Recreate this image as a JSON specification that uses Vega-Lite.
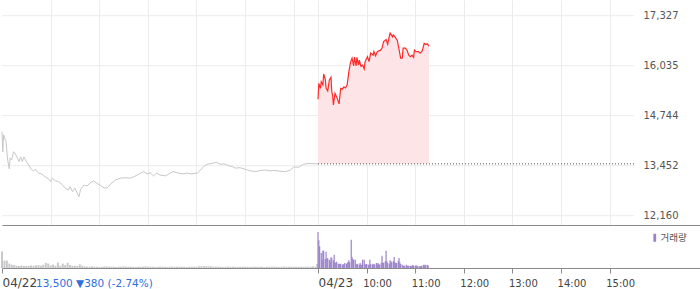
{
  "$schema": "https://vega.github.io/schema/vega-lite/v6.json",
  "padding": 0,
  "spacing": 0,
  "bounds": "flush",
  "background": "white",
  "config": {"view": {"stroke": null}, "font": "DejaVu Sans"},
  "datasets": {
    "price": [
      {"d":"04/22","m":0,"p":14330},{"d":"04/22","m":1,"p":13810},{"d":"04/22","m":2,"p":14250},{"d":"04/22","m":5,"p":14070},{"d":"04/22","m":7,"p":13600},{"d":"04/22","m":9,"p":13370},{"d":"04/22","m":10,"p":13650},{"d":"04/22","m":12,"p":13600},{"d":"04/22","m":14,"p":13810},{"d":"04/22","m":16,"p":13780},{"d":"04/22","m":19,"p":13650},{"d":"04/22","m":21,"p":13560},{"d":"04/22","m":23,"p":13680},{"d":"04/22","m":25,"p":13560},{"d":"04/22","m":27,"p":13680},{"d":"04/22","m":30,"p":13560},{"d":"04/22","m":33,"p":13470},{"d":"04/22","m":36,"p":13360},{"d":"04/22","m":39,"p":13320},{"d":"04/22","m":41,"p":13360},{"d":"04/22","m":45,"p":13260},{"d":"04/22","m":49,"p":13240},{"d":"04/22","m":53,"p":13170},{"d":"04/22","m":58,"p":13100},{"d":"04/22","m":60,"p":13040},{"d":"04/22","m":62,"p":13130},{"d":"04/22","m":66,"p":13060},{"d":"04/22","m":70,"p":13040},{"d":"04/22","m":74,"p":12970},{"d":"04/22","m":78,"p":12870},{"d":"04/22","m":82,"p":12820},{"d":"04/22","m":84,"p":12910},{"d":"04/22","m":87,"p":12780},{"d":"04/22","m":90,"p":12870},{"d":"04/22","m":95,"p":12650},{"d":"04/22","m":97,"p":12840},{"d":"04/22","m":101,"p":12950},{"d":"04/22","m":105,"p":12930},{"d":"04/22","m":109,"p":13010},{"d":"04/22","m":113,"p":13060},{"d":"04/22","m":117,"p":13000},{"d":"04/22","m":121,"p":12950},{"d":"04/22","m":126,"p":12880},{"d":"04/22","m":130,"p":12880},{"d":"04/22","m":134,"p":12980},{"d":"04/22","m":140,"p":13080},{"d":"04/22","m":146,"p":13130},{"d":"04/22","m":152,"p":13140},{"d":"04/22","m":158,"p":13130},{"d":"04/22","m":163,"p":13170},{"d":"04/22","m":167,"p":13210},{"d":"04/22","m":171,"p":13260},{"d":"04/22","m":175,"p":13300},{"d":"04/22","m":179,"p":13240},{"d":"04/22","m":183,"p":13270},{"d":"04/22","m":187,"p":13190},{"d":"04/22","m":191,"p":13260},{"d":"04/22","m":195,"p":13210},{"d":"04/22","m":202,"p":13190},{"d":"04/22","m":206,"p":13240},{"d":"04/22","m":211,"p":13300},{"d":"04/22","m":216,"p":13270},{"d":"04/22","m":222,"p":13240},{"d":"04/22","m":228,"p":13260},{"d":"04/22","m":234,"p":13240},{"d":"04/22","m":241,"p":13260},{"d":"04/22","m":245,"p":13340},{"d":"04/22","m":249,"p":13430},{"d":"04/22","m":253,"p":13490},{"d":"04/22","m":259,"p":13510},{"d":"04/22","m":265,"p":13540},{"d":"04/22","m":269,"p":13490},{"d":"04/22","m":274,"p":13500},{"d":"04/22","m":280,"p":13450},{"d":"04/22","m":284,"p":13430},{"d":"04/22","m":288,"p":13390},{"d":"04/22","m":294,"p":13400},{"d":"04/22","m":300,"p":13360},{"d":"04/22","m":306,"p":13320},{"d":"04/22","m":313,"p":13300},{"d":"04/22","m":319,"p":13330},{"d":"04/22","m":325,"p":13340},{"d":"04/22","m":331,"p":13320},{"d":"04/22","m":337,"p":13330},{"d":"04/22","m":343,"p":13310},{"d":"04/22","m":350,"p":13300},{"d":"04/22","m":356,"p":13340},{"d":"04/22","m":360,"p":13420},{"d":"04/22","m":366,"p":13410},{"d":"04/22","m":372,"p":13490},{"d":"04/22","m":378,"p":13510},{"d":"04/22","m":390,"p":13500},
      {"d":"04/23","m":390,"p":15170},{"d":"04/23","m":391,"p":15580},{"d":"04/23","m":393,"p":15450},{"d":"04/23","m":394,"p":15620},{"d":"04/23","m":396,"p":15540},{"d":"04/23","m":397,"p":15820},{"d":"04/23","m":399,"p":15680},{"d":"04/23","m":400,"p":15450},{"d":"04/23","m":402,"p":15380},{"d":"04/23","m":404,"p":15670},{"d":"04/23","m":406,"p":15740},{"d":"04/23","m":407,"p":15360},{"d":"04/23","m":408,"p":15280},{"d":"04/23","m":409,"p":15020},{"d":"04/23","m":411,"p":15320},{"d":"04/23","m":413,"p":15230},{"d":"04/23","m":416,"p":15050},{"d":"04/23","m":418,"p":15450},{"d":"04/23","m":420,"p":15430},{"d":"04/23","m":422,"p":15490},{"d":"04/23","m":424,"p":15460},{"d":"04/23","m":426,"p":15540},{"d":"04/23","m":428,"p":15870},{"d":"04/23","m":430,"p":16110},{"d":"04/23","m":432,"p":16230},{"d":"04/23","m":434,"p":16030},{"d":"04/23","m":435,"p":16260},{"d":"04/23","m":437,"p":16030},{"d":"04/23","m":438,"p":16250},{"d":"04/23","m":440,"p":16050},{"d":"04/23","m":441,"p":16180},{"d":"04/23","m":443,"p":16020},{"d":"04/23","m":445,"p":16050},{"d":"04/23","m":447,"p":15950},{"d":"04/23","m":448,"p":16130},{"d":"04/23","m":451,"p":16270},{"d":"04/23","m":453,"p":16140},{"d":"04/23","m":455,"p":16360},{"d":"04/23","m":458,"p":16310},{"d":"04/23","m":459,"p":16400},{"d":"04/23","m":461,"p":16290},{"d":"04/23","m":463,"p":16390},{"d":"04/23","m":465,"p":16420},{"d":"04/23","m":467,"p":16430},{"d":"04/23","m":469,"p":16490},{"d":"04/23","m":471,"p":16660},{"d":"04/23","m":474,"p":16710},{"d":"04/23","m":476,"p":16590},{"d":"04/23","m":478,"p":16790},{"d":"04/23","m":479,"p":16880},{"d":"04/23","m":482,"p":16780},{"d":"04/23","m":483,"p":16830},{"d":"04/23","m":485,"p":16780},{"d":"04/23","m":488,"p":16680},{"d":"04/23","m":489,"p":16570},{"d":"04/23","m":492,"p":16230},{"d":"04/23","m":494,"p":16230},{"d":"04/23","m":495,"p":16490},{"d":"04/23","m":498,"p":16490},{"d":"04/23","m":500,"p":16430},{"d":"04/23","m":502,"p":16310},{"d":"04/23","m":504,"p":16270},{"d":"04/23","m":506,"p":16310},{"d":"04/23","m":508,"p":16250},{"d":"04/23","m":509,"p":16440},{"d":"04/23","m":511,"p":16400},{"d":"04/23","m":514,"p":16400},{"d":"04/23","m":516,"p":16360},{"d":"04/23","m":518,"p":16400},{"d":"04/23","m":519,"p":16440},{"d":"04/23","m":521,"p":16610},{"d":"04/23","m":522,"p":16600},{"d":"04/23","m":523,"p":16580},{"d":"04/23","m":525,"p":16600},{"d":"04/23","m":527,"p":16540}
    ],
    "vol": [
      {"d":"04/22","m":0,"v":82000},{"d":"04/22","m":3,"v":37000},{"d":"04/22","m":6,"v":37000},{"d":"04/22","m":9,"v":22000},{"d":"04/22","m":12,"v":17000},{"d":"04/22","m":15,"v":15000},{"d":"04/22","m":18,"v":11000},{"d":"04/22","m":21,"v":10000},{"d":"04/22","m":24,"v":13000},{"d":"04/22","m":27,"v":10000},{"d":"04/22","m":30,"v":11000},{"d":"04/22","m":33,"v":10000},{"d":"04/22","m":36,"v":13000},{"d":"04/22","m":39,"v":11000},{"d":"04/22","m":42,"v":13000},{"d":"04/22","m":45,"v":15000},{"d":"04/22","m":48,"v":11000},{"d":"04/22","m":51,"v":16000},{"d":"04/22","m":54,"v":26000},{"d":"04/22","m":57,"v":22000},{"d":"04/22","m":60,"v":13000},{"d":"04/22","m":63,"v":17000},{"d":"04/22","m":66,"v":11000},{"d":"04/22","m":69,"v":27000},{"d":"04/22","m":72,"v":11000},{"d":"04/22","m":75,"v":22000},{"d":"04/22","m":78,"v":15000},{"d":"04/22","m":81,"v":26000},{"d":"04/22","m":84,"v":15000},{"d":"04/22","m":87,"v":11000},{"d":"04/22","m":90,"v":11000},{"d":"04/22","m":93,"v":10000},{"d":"04/22","m":96,"v":18000},{"d":"04/22","m":99,"v":11000},{"d":"04/22","m":102,"v":8000},
      {"d":"04/22","m":105,"v":6500},{"d":"04/22","m":108,"v":6500},{"d":"04/22","m":111,"v":8500},{"d":"04/22","m":114,"v":6500},{"d":"04/22","m":117,"v":6500},{"d":"04/22","m":120,"v":5000},{"d":"04/22","m":123,"v":6500},{"d":"04/22","m":126,"v":6500},{"d":"04/22","m":129,"v":8500},{"d":"04/22","m":132,"v":6500},{"d":"04/22","m":135,"v":6500},{"d":"04/22","m":138,"v":6500},{"d":"04/22","m":141,"v":5000},{"d":"04/22","m":144,"v":6500},{"d":"04/22","m":147,"v":6500},{"d":"04/22","m":150,"v":8500},{"d":"04/22","m":153,"v":6500},{"d":"04/22","m":156,"v":6500},{"d":"04/22","m":159,"v":6500},{"d":"04/22","m":162,"v":6500},{"d":"04/22","m":165,"v":5000},{"d":"04/22","m":168,"v":6500},{"d":"04/22","m":171,"v":6500},{"d":"04/22","m":174,"v":6500},{"d":"04/22","m":177,"v":8500},{"d":"04/22","m":180,"v":6500},{"d":"04/22","m":183,"v":6500},{"d":"04/22","m":186,"v":6500},{"d":"04/22","m":189,"v":5000},{"d":"04/22","m":192,"v":6500},{"d":"04/22","m":195,"v":6500},{"d":"04/22","m":198,"v":6500},{"d":"04/22","m":201,"v":6500},{"d":"04/22","m":204,"v":5000},{"d":"04/22","m":207,"v":6500},{"d":"04/22","m":210,"v":6500},{"d":"04/22","m":213,"v":6500},{"d":"04/22","m":216,"v":6500},{"d":"04/22","m":219,"v":6500},{"d":"04/22","m":222,"v":6500},{"d":"04/22","m":225,"v":6500},{"d":"04/22","m":228,"v":5000},{"d":"04/22","m":231,"v":6500},{"d":"04/22","m":234,"v":6500},{"d":"04/22","m":237,"v":6500},{"d":"04/22","m":240,"v":6500},{"d":"04/22","m":243,"v":8500},{"d":"04/22","m":246,"v":8500},{"d":"04/22","m":249,"v":10000},{"d":"04/22","m":252,"v":8500},{"d":"04/22","m":255,"v":8500},{"d":"04/22","m":258,"v":8500},{"d":"04/22","m":261,"v":6500},{"d":"04/22","m":264,"v":6500},{"d":"04/22","m":267,"v":6500},{"d":"04/22","m":270,"v":6500},{"d":"04/22","m":273,"v":5000},{"d":"04/22","m":276,"v":6500},{"d":"04/22","m":279,"v":6500},{"d":"04/22","m":282,"v":6500},{"d":"04/22","m":285,"v":6500},{"d":"04/22","m":288,"v":6500},{"d":"04/22","m":291,"v":5000},{"d":"04/22","m":294,"v":6500},{"d":"04/22","m":297,"v":6500},{"d":"04/22","m":300,"v":6500},{"d":"04/22","m":303,"v":6500},{"d":"04/22","m":306,"v":5000},{"d":"04/22","m":309,"v":6500},{"d":"04/22","m":312,"v":6500},{"d":"04/22","m":315,"v":6500},{"d":"04/22","m":318,"v":6500},{"d":"04/22","m":321,"v":6500},{"d":"04/22","m":324,"v":5000},{"d":"04/22","m":327,"v":6500},{"d":"04/22","m":330,"v":6500},{"d":"04/22","m":333,"v":6500},{"d":"04/22","m":336,"v":6500},{"d":"04/22","m":339,"v":6500},{"d":"04/22","m":342,"v":5000},{"d":"04/22","m":345,"v":6500},{"d":"04/22","m":348,"v":6500},{"d":"04/22","m":351,"v":6500},{"d":"04/22","m":354,"v":6500},{"d":"04/22","m":357,"v":6500},{"d":"04/22","m":360,"v":6500},{"d":"04/22","m":363,"v":6500},{"d":"04/22","m":366,"v":6500},{"d":"04/22","m":369,"v":6500},{"d":"04/22","m":372,"v":6500},{"d":"04/22","m":375,"v":6500},{"d":"04/22","m":378,"v":6500},{"d":"04/22","m":381,"v":6500},{"d":"04/22","m":384,"v":8500},{"d":"04/22","m":387,"v":6500},{"d":"04/22","m":389,"v":20000},
      {"d":"04/23","m":390,"v":180000},{"d":"04/23","m":391,"v":138500},{"d":"04/23","m":392,"v":108500},{"d":"04/23","m":394,"v":75000},{"d":"04/23","m":395,"v":41500},{"d":"04/23","m":396,"v":86500},{"d":"04/23","m":397,"v":86500},{"d":"04/23","m":399,"v":45000},{"d":"04/23","m":400,"v":81500},{"d":"04/23","m":401,"v":45000},{"d":"04/23","m":402,"v":50000},{"d":"04/23","m":404,"v":41500},{"d":"04/23","m":405,"v":33500},{"d":"04/23","m":406,"v":53500},{"d":"04/23","m":407,"v":50000},{"d":"04/23","m":409,"v":38500},{"d":"04/23","m":410,"v":66500},{"d":"04/23","m":411,"v":25000},{"d":"04/23","m":412,"v":28500},{"d":"04/23","m":413,"v":31500},{"d":"04/23","m":415,"v":21500},{"d":"04/23","m":416,"v":21500},{"d":"04/23","m":417,"v":20000},{"d":"04/23","m":418,"v":21500},{"d":"04/23","m":420,"v":16500},{"d":"04/23","m":421,"v":20000},{"d":"04/23","m":422,"v":16500},{"d":"04/23","m":423,"v":25000},{"d":"04/23","m":425,"v":20000},{"d":"04/23","m":426,"v":25000},{"d":"04/23","m":427,"v":30000},{"d":"04/23","m":428,"v":38500},{"d":"04/23","m":429,"v":28500},{"d":"04/23","m":431,"v":141500},{"d":"04/23","m":432,"v":55000},{"d":"04/23","m":433,"v":45000},{"d":"04/23","m":434,"v":41500},{"d":"04/23","m":436,"v":41500},{"d":"04/23","m":437,"v":20000},{"d":"04/23","m":438,"v":16500},{"d":"04/23","m":439,"v":21500},{"d":"04/23","m":441,"v":16500},{"d":"04/23","m":442,"v":25000},{"d":"04/23","m":443,"v":16500},{"d":"04/23","m":444,"v":16500},{"d":"04/23","m":445,"v":41500},{"d":"04/23","m":447,"v":41500},{"d":"04/23","m":448,"v":20000},{"d":"04/23","m":449,"v":16500},{"d":"04/23","m":450,"v":20000},{"d":"04/23","m":452,"v":16500},{"d":"04/23","m":453,"v":16500},{"d":"04/23","m":454,"v":41500},{"d":"04/23","m":455,"v":20000},{"d":"04/23","m":457,"v":16500},{"d":"04/23","m":458,"v":21500},{"d":"04/23","m":459,"v":20000},{"d":"04/23","m":460,"v":16500},{"d":"04/23","m":462,"v":25000},{"d":"04/23","m":463,"v":16500},{"d":"04/23","m":464,"v":25000},{"d":"04/23","m":465,"v":20000},{"d":"04/23","m":466,"v":16500},{"d":"04/23","m":468,"v":25000},{"d":"04/23","m":469,"v":61500},{"d":"04/23","m":470,"v":28500},{"d":"04/23","m":471,"v":25000},{"d":"04/23","m":473,"v":33500},{"d":"04/23","m":474,"v":86500},{"d":"04/23","m":475,"v":33500},{"d":"04/23","m":476,"v":25000},{"d":"04/23","m":478,"v":21500},{"d":"04/23","m":479,"v":38500},{"d":"04/23","m":480,"v":33500},{"d":"04/23","m":481,"v":28500},{"d":"04/23","m":483,"v":33500},{"d":"04/23","m":484,"v":55000},{"d":"04/23","m":485,"v":28500},{"d":"04/23","m":486,"v":25000},{"d":"04/23","m":487,"v":25000},{"d":"04/23","m":489,"v":36500},{"d":"04/23","m":490,"v":50000},{"d":"04/23","m":491,"v":28500},{"d":"04/23","m":492,"v":20000},{"d":"04/23","m":494,"v":16500},{"d":"04/23","m":495,"v":11500},{"d":"04/23","m":496,"v":11500},{"d":"04/23","m":497,"v":11500},{"d":"04/23","m":499,"v":16500},{"d":"04/23","m":500,"v":11500},{"d":"04/23","m":501,"v":11500},{"d":"04/23","m":502,"v":11500},{"d":"04/23","m":504,"v":11500},{"d":"04/23","m":505,"v":8500},{"d":"04/23","m":506,"v":11500},{"d":"04/23","m":507,"v":15000},{"d":"04/23","m":508,"v":11500},{"d":"04/23","m":510,"v":11500},{"d":"04/23","m":511,"v":13500},{"d":"04/23","m":512,"v":11500},{"d":"04/23","m":513,"v":8500},{"d":"04/23","m":515,"v":8500},{"d":"04/23","m":516,"v":8500},{"d":"04/23","m":517,"v":10000},{"d":"04/23","m":518,"v":11500},{"d":"04/23","m":520,"v":15000},{"d":"04/23","m":521,"v":16500},{"d":"04/23","m":522,"v":11500},{"d":"04/23","m":523,"v":16500},{"d":"04/23","m":525,"v":15000},{"d":"04/23","m":526,"v":11500}
    ]
  },
  "vconcat": [
    {
      "width": 700,
      "height": 225,
      "layer": [
        {
          "data": {"values": [{"g": 12160}, {"g": 13452}, {"g": 14744}, {"g": 16035}, {"g": 17327}]},
          "mark": {"type": "rule", "color": "#ececec", "strokeWidth": 1},
          "encoding": {
            "x": {"datum": 0, "type": "quantitative",
              "scale": {"domain": [0, 863.9], "nice": false, "zero": false, "padding": 0},
              "axis": {"values": [60,120,180,240,300,360,390,450,510,570,630,690,750], "grid": true, "gridColor": "#ececec", "labels": false, "ticks": false, "tickSize": 0, "domain": true, "domainColor": "#8a8a8a", "domainWidth": 1.2, "title": null}},
            "x2": {"datum": 780},
            "y": {"field": "g", "type": "quantitative",
              "scale": {"domain": [11920, 17733], "nice": false, "zero": false, "padding": 0},
              "axis": {"orient": "right", "values": [12160, 13452, 14744, 16035, 17327], "format": ",d", "offset": -68, "grid": false, "ticks": false, "tickSize": 0, "domain": false, "labelPadding": 9, "labelAlign": "left", "labelFontSize": 10, "labelColor": "#555555", "labelFont": "DejaVu Sans", "labelFlush": false, "labelOverlap": false, "title": null}}
          }
        },
        {
          "data": {"name": "price"},
          "transform": [{"filter": "datum.d == '04/23'"}],
          "mark": {"type": "area", "color": "#fde4e6", "opacity": 1},
          "encoding": {
            "x": {"field": "m", "type": "quantitative"},
            "y": {"field": "p", "type": "quantitative"},
            "y2": {"datum": 13500}
          }
        },
        {
          "data": {"name": "price"},
          "transform": [{"filter": "datum.d == '04/22'"}],
          "mark": {"type": "line", "color": "#c8c8c8", "strokeWidth": 1},
          "encoding": {
            "x": {"field": "m", "type": "quantitative"},
            "y": {"field": "p", "type": "quantitative"}
          }
        },
        {
          "data": {"name": "price"},
          "transform": [{"filter": "datum.d == '04/23'"}],
          "mark": {"type": "line", "color": "#ff2a2a", "strokeWidth": 1.2},
          "encoding": {
            "x": {"field": "m", "type": "quantitative"},
            "y": {"field": "p", "type": "quantitative"}
          }
        },
        {
          "data": {"values": [{}]},
          "mark": {"type": "rule", "color": "#555555", "strokeDash": [1, 2], "strokeWidth": 1},
          "encoding": {
            "x": {"datum": 390},
            "x2": {"datum": 780},
            "y": {"datum": 13500}
          }
        }
      ]
    },
    {
      "width": 700,
      "height": 43,
      "layer": [
        {
          "data": {"name": "vol"},
          "transform": [{"filter": "datum.d == '04/22'"}],
          "mark": {"type": "bar", "color": "#c9c9cc", "size": 2},
          "encoding": {
            "x": {"field": "m", "type": "quantitative",
              "scale": {"domain": [0, 863.9], "nice": false, "zero": false, "padding": 0},
              "axis": {"values": [0, 390, 450, 510, 570, 630, 690, 750],
                "labelExpr": "datum.value == 0 ? '04/22' : datum.value == 390 ? '04/23' : (9 + (datum.value - 390) / 60) + ':00'",
                "grid": false, "domain": true, "domainColor": "#8a8a8a", "domainWidth": 1.2,
                "ticks": true, "tickColor": "#8a8a8a", "tickSize": 5,
                "labelAlign": "left", "labelBaseline": "alphabetic", "labelPadding": 13.5,
                "labelFontSize": {"condition": {"test": "datum.value <= 390", "value": 12}, "value": 10},
                "labelOffset": {"condition": {"test": "datum.value > 390", "value": -4}, "value": 0},
                "labelColor": "#444444", "labelFont": "DejaVu Sans",
                "labelFlush": false, "labelOverlap": false, "labelBound": false, "title": null}},
            "y": {"field": "v", "type": "quantitative", "scale": {"domain": [0, 215000], "nice": false, "padding": 0}, "axis": null}
          }
        },
        {
          "data": {"name": "vol"},
          "transform": [{"filter": "datum.d == '04/23'"}],
          "mark": {"type": "bar", "size": 1.2},
          "encoding": {
            "x": {"field": "m", "type": "quantitative"},
            "y": {"field": "v", "type": "quantitative"},
            "color": {"datum": "거래량", "type": "nominal",
              "scale": {"range": ["#9a83c8"]},
              "legend": {"title": null, "orient": "none", "legendX": 648, "legendY": 233,
                "symbolType": "M-0.35,-1H0.35V1H-0.35Z", "symbolSize": 64, "symbolStrokeWidth": 0,
                "labelFont": "Noto Sans CJK KR", "labelFontSize": 9.5, "labelColor": "#555555",
                "labelOffset": 1, "padding": 0}}
          }
        },
        {
          "data": {"values": [{"m": 0, "label": "13,500 ▼380 (-2.74%)"}]},
          "mark": {"type": "text", "align": "left", "baseline": "alphabetic", "dx": 34, "dy": 19, "fontSize": 10.5, "font": "DejaVu Sans", "color": "#2f6fdc"},
          "encoding": {
            "x": {"field": "m", "type": "quantitative"},
            "y": {"datum": 0},
            "text": {"field": "label"}
          }
        }
      ]
    }
  ]
}
